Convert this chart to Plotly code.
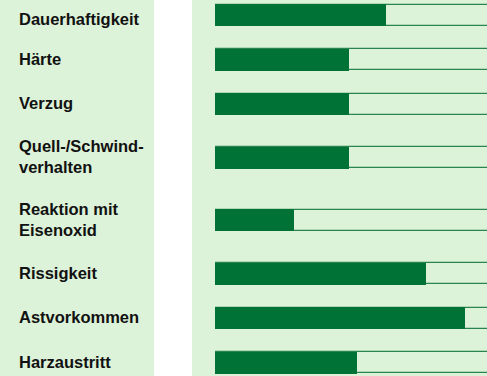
import plotly.graph_objects as go

# Wood property ratings (share of full scale, 0-100)
properties = [
    "Dauerhaftigkeit",
    "Härte",
    "Verzug",
    "Quell-/Schwind-<br>verhalten",
    "Reaktion mit<br>Eisenoxid",
    "Rissigkeit",
    "Astvorkommen",
    "Harzaustritt",
]
ratings = [63, 49.3, 49.3, 49.3, 29, 77.6, 92, 52.2]
scale_max = 100

W, H = 487, 376
BG = "#ddf3d9"
DARK = "#017236"
TRACK_LINE = "#2a8450"

# Row centres: single-line rows sit 44.5 px apart, extra label lines add room
n_lines = [p.count("<br>") + 1 for p in properties]
rows = [15.0]
for i in range(1, len(properties)):
    rows.append(rows[-1] + 44.5 + 9 * ((n_lines[i - 1] - 1) + (n_lines[i] - 1)))

fig = go.Figure()

# Empty track behind each rating bar (top/bottom outline only visible)
fig.add_trace(go.Bar(
    y=rows, x=[scale_max * 1.2] * len(rows), orientation="h",
    width=21, marker=dict(color=BG, line=dict(color=TRACK_LINE, width=1.2)),
    hoverinfo="skip", showlegend=False,
))
# Filled rating bars
fig.add_trace(go.Bar(
    y=rows, x=ratings, orientation="h", width=22,
    marker=dict(color=DARK, line=dict(width=0)),
    customdata=[p.replace("<br>", " ") for p in properties],
    hovertemplate="%{customdata}: %{x}<extra></extra>",
    showlegend=False,
))

# Panel backgrounds
shapes = [
    dict(type="rect", xref="paper", yref="paper", x0=0, x1=154 / W, y0=0, y1=1,
         fillcolor=BG, line=dict(width=0), layer="below"),
    dict(type="rect", xref="paper", yref="paper", x0=192 / W, x1=1, y0=0, y1=1,
         fillcolor=BG, line=dict(width=0), layer="below"),
]

annotations = []
for i, (p, y) in enumerate(zip(properties, rows)):
    annotations.append(dict(
        text=p, xref="paper", x=17 / W, xanchor="left", yref="y", y=y,
        yanchor="middle", yshift=-4 if i == 0 else 1, align="left",
        showarrow=False,
        font=dict(family="Liberation Sans, Arial, sans-serif", size=16.5,
                  color="#111111", weight="bold"),
    ))

fig.update_layout(
    width=W, height=H, margin=dict(l=0, r=0, t=0, b=0),
    paper_bgcolor="white", plot_bgcolor="rgba(0,0,0,0)",
    barmode="overlay", bargap=0,
    xaxis=dict(domain=[215 / W, 1], range=[0, scale_max], visible=False, fixedrange=True),
    yaxis=dict(range=[H, 0], visible=False, fixedrange=True),
    shapes=shapes, annotations=annotations,
)

fig.write_html("out.html")
